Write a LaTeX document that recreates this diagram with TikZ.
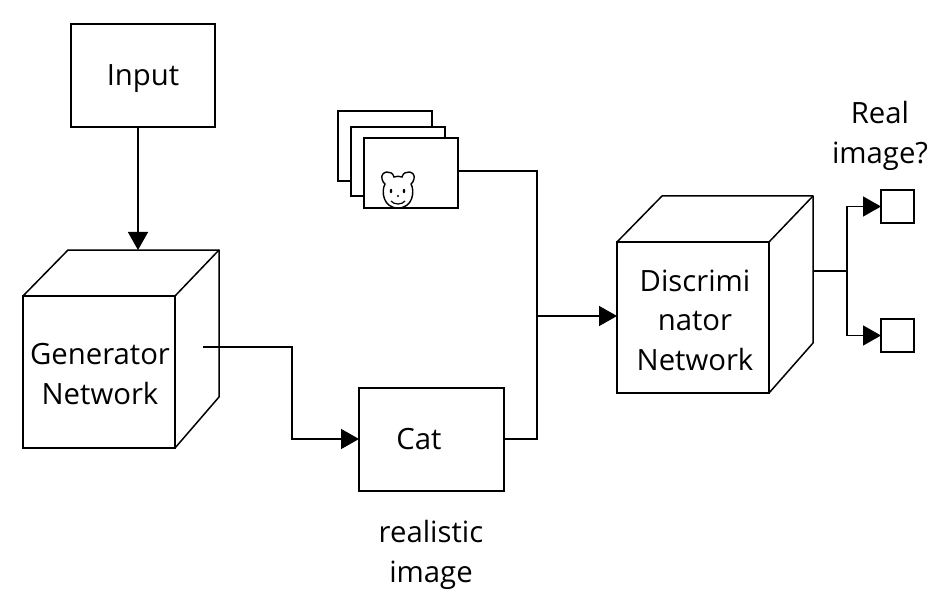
\documentclass[tikz,border=0pt]{standalone}
\usepackage{fontspec}
\setmainfont{Open Sans}
\usetikzlibrary{arrows.meta}

\begin{document}
\begin{tikzpicture}[x=1pt,y=-1pt,
  every node/.style={font=\fontsize{29.3}{39.5}\selectfont,align=center,inner sep=0pt,outer sep=0pt},
  box/.style={draw,line width=1.5pt,anchor=north west},
  edge/.style={line width=1.5pt,line cap=butt},
  flow/.style={edge,-{Triangle[length=18pt,width=20pt]}},
  face/.style={line width=1.5pt,line join=round},]

  \useasboundingbox (0,0) rectangle (952,612);

  % input
  \node[box,minimum width=144pt,minimum height=103pt] (input) at (71,24) {};
  \node[] (inputtext) at (143,79) {Input};

  % generator cube
  \draw[face] (23,296) -- (68,250) -- (219,250) -- (219,397) -- (175,448);
  \draw[face] (175,296) -- (219,250);
  \node[box,minimum width=152pt,minimum height=152pt] (generator) at (23,296) {};
  \node[] (generatortext) at (100,374) {Generator\\Network};
  \coordinate (genin) at (138,250);
  \coordinate (genout) at (203,347);

  % cat
  \node[box,minimum width=145pt,minimum height=103pt] (cat) at (359,388) {};
  \node[] (cattext) at (419,439) {Cat};
  \node[] (catlabel) at (431,555) {realistic\\image};

  % stack of images
  \node[box,minimum width=94pt,minimum height=70pt] (imageA) at (338,111) {};
  \node[box,fill=white,minimum width=94pt,minimum height=69pt] (imageB) at (351,127) {};
  \node[box,fill=white,minimum width=94pt,minimum height=70pt] (imageC) at (364,138) {};

  % bear
  \draw[line width=1.4pt] (394,177) .. controls (392,169) and (380,171) .. (382,179)
    .. controls (382.5,182) and (384,183) .. (385,184)
    .. controls (381,191) and (383,208) .. (398,208)
    .. controls (413,208) and (415,191) .. (411,184)
    .. controls (412,183) and (413.5,182) .. (414,179)
    .. controls (416,171) and (404,169) .. (402,177)
    .. controls (399,176) and (397,176) .. (394,177) -- cycle;
  \fill (391,191) ellipse (1.3pt and 2.2pt);
  \fill (404,191) ellipse (1.3pt and 2.2pt);
  \fill (398,196) circle (1.1pt);
  \draw[line width=1.2pt] (391,201) .. controls (394,205) and (402,205) .. (405,201);

  % discriminator cube
  \draw[face] (617,242) -- (662,196) -- (813,196) -- (813,343) -- (769,393);
  \draw[face] (769,242) -- (813,196);
  \node[box,minimum width=152pt,minimum height=151pt] (disc) at (617,242) {};
  \node[] (disctext) at (695,320) {Discrimi\\nator\\Network};
  \coordinate (discin) at (617,316);
  \coordinate (discout) at (813,271);

  % answers
  \node[box,minimum width=33pt,minimum height=33pt] (yes) at (881,190) {};
  \node[box,minimum width=33pt,minimum height=33pt] (no) at (881,319) {};
  \node[] (question) at (880,136) {Real\\image?};

  % connectors
  \coordinate (merge) at (537,316);
  \coordinate (fork) at (847,271);
  \draw[flow] (input.south -| genin) -- (genin);
  \draw[flow] (genout) -- (292,347) -- (292,439) -- (cat.west |- 0,439);
  \draw[edge] (imageC.east |- 0,171) -- (537,171) -- (537,439) -- (cat.east |- 0,439);
  \draw[flow] (merge) -- (discin);
  \draw[edge] (discout) -- (fork);
  \draw[flow] (fork) |- (yes.west);
  \draw[flow] (fork) |- (no.west);

\end{tikzpicture}
\end{document}
